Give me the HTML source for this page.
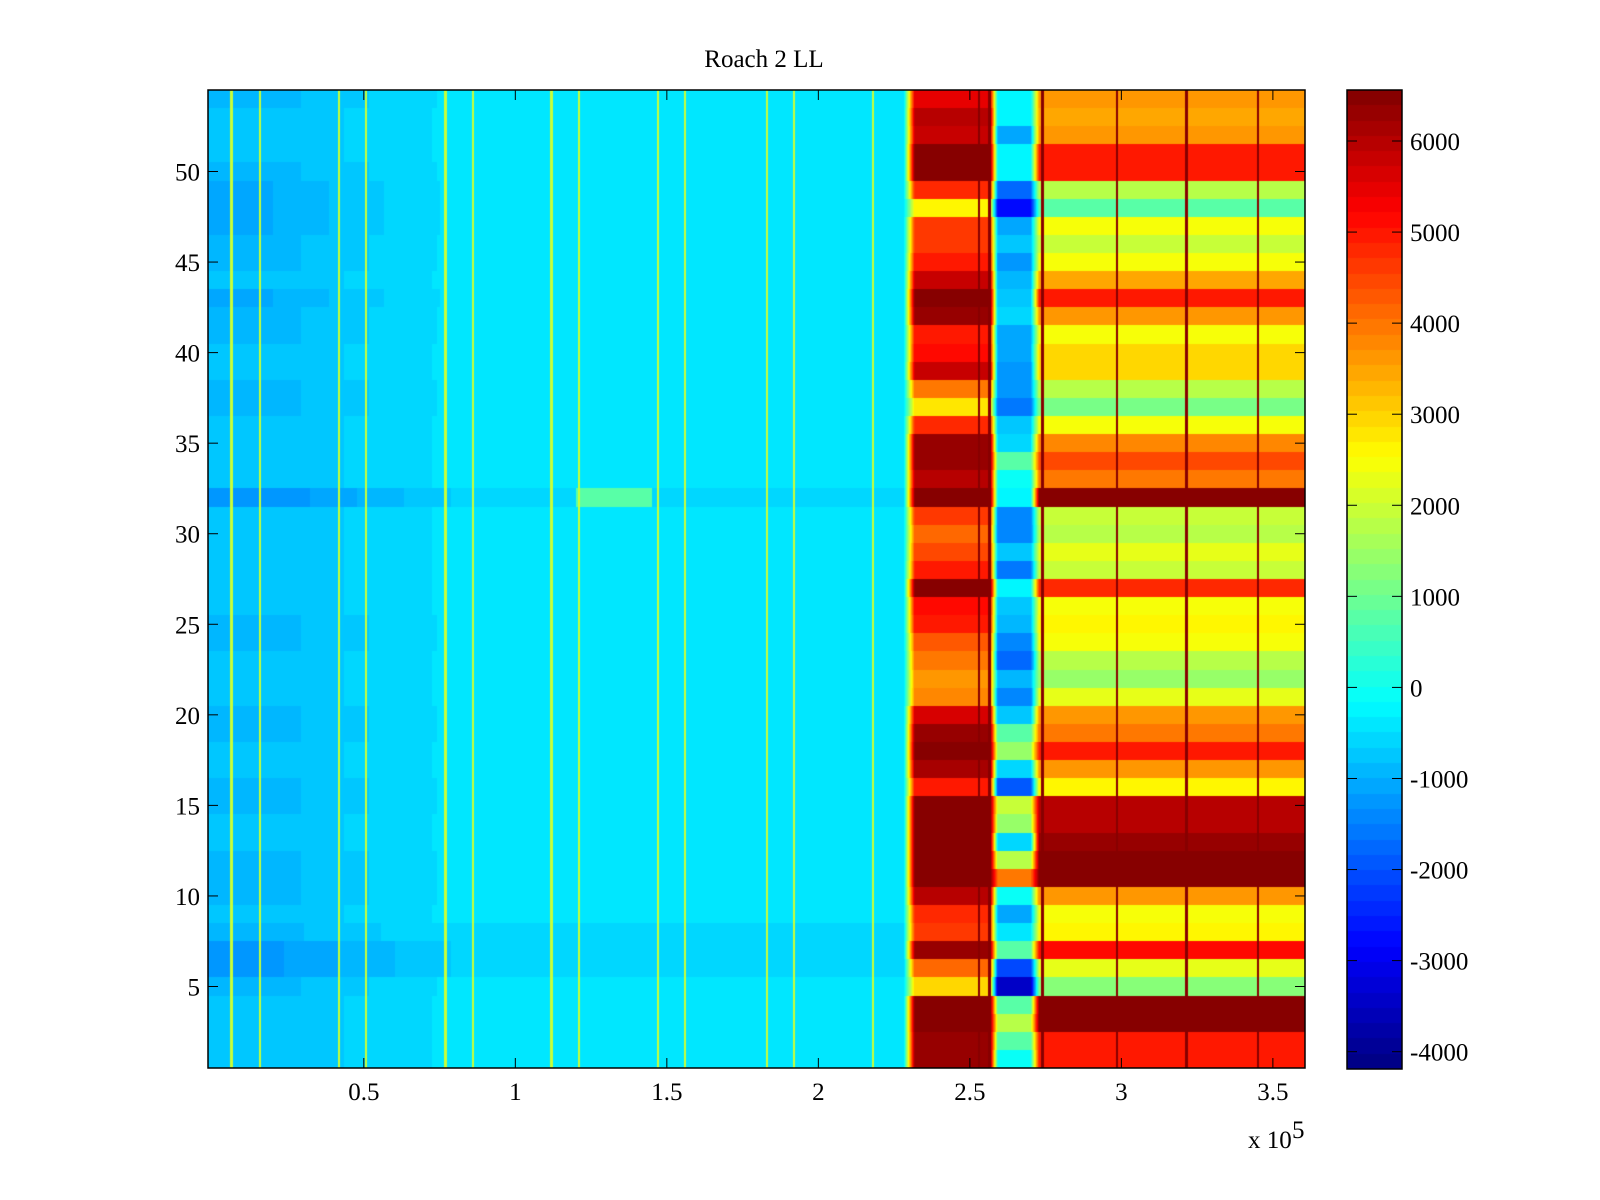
<!DOCTYPE html>
<html><head><meta charset="utf-8"><title>Roach 2 LL</title>
<style>
html,body{margin:0;padding:0;background:#fff;width:1600px;height:1200px;overflow:hidden;}
#wrap{position:relative;width:1600px;height:1200px;}
canvas{position:absolute;}
svg{position:absolute;left:0;top:0;}
text{font-family:"Liberation Serif",serif;font-size:25px;fill:#000;}
</style></head>
<body>
<div id="wrap">
<canvas id="heat" width="1097" height="978" style="left:208px;top:90px;"></canvas>
<canvas id="cbar" width="55" height="979" style="left:1347px;top:90px;"></canvas>
<svg id="ov" width="1600" height="1200"></svg>
</div>
<script>
// ---- data (rows 1..54) ----
const rowsA1 = [-800,-800,-800,-800,-900,-1200,-1200,-900,-800,-900,-900,-900,-800,-800,-900,-900,-800,-800,-900,-900,-800,-800,-800,-900,-900,-800,-800,-800,-800,-800,-800,-1300,-800,-800,-800,-800,-900,-900,-800,-800,-900,-900,-1000,-800,-900,-900,-1000,-1000,-1000,-900,-800,-800,-800,-900];
const rowsA2 = [-450,-450,-450,-450,-450,-650,-650,-500,-450,-450,-450,-450,-450,-450,-450,-450,-450,-450,-450,-450,-450,-450,-450,-450,-450,-450,-450,-450,-450,-450,-450,-650,-450,-450,-450,-450,-450,-450,-450,-450,-450,-450,-450,-450,-450,-450,-450,-450,-450,-450,-450,-450,-450,-450];
const rowsB = [6300,6300,6500,6500,3000,4200,6300,4600,4800,6000,6500,6500,6500,6500,6500,5000,6200,6500,6300,5700,3800,3700,4000,4300,5000,5200,6500,4900,4500,4200,4600,6500,6000,6300,6300,4800,2800,4000,5800,5200,5000,6300,6500,5800,5000,4600,4600,2600,4800,6500,6500,5800,6000,5500];
const rowsC = [0,800,1800,800,-3500,-2100,800,-400,-1000,0,4000,1700,-500,1500,2000,-2000,-600,1500,700,-800,-1500,-900,-1800,-1400,-900,-800,-200,-1600,-800,-1500,-1500,-200,0,700,-500,-700,-1600,-1200,-1300,-1000,-1100,-600,-800,-900,-1200,-800,-1000,-2800,-1700,-200,-200,-1000,-300,-300];
const rowsD = [5000,5000,6500,6500,1200,2200,5200,2600,2400,3700,6500,6500,6300,6000,6000,2600,3600,5000,4000,3700,2300,1500,1700,2400,2600,2500,4800,2000,2200,1700,1900,6500,3900,4400,3800,2500,1100,1800,3000,2900,2500,3700,5000,3500,2400,2000,2400,700,1800,5000,5000,3600,3500,3600];
const regionEdges = [0.5, 2.30, 2.58, 2.715]; // x (1e5) where A1|A2|B|C|D change
const stripesA = [0.064,0.157,0.418,0.508,0.77,0.86,1.12,1.21,1.47,1.56,1.83,1.92,2.18];
const stripeAValue = 1900;
const stripesD = [2.74,2.985,3.215,3.45];
const stripesB = [2.53,2.565];
const stripeDarkValue = 6500;
const patchRow = 32, patchX = [1.2,1.45], patchValue = 700;
const xTicks = [0.5,1,1.5,2,2.5,3,3.5];
const yTicks = [5,10,15,20,25,30,35,40,45,50];
const cTicks = [-4000,-3000,-2000,-1000,0,1000,2000,3000,4000,5000,6000];

// ---- scales ----
const PL=208, PT=90, PW=1097, PH=978;
const XMIN=-0.0142, XMAX=3.606, YMIN=0.5, YMAX=54.5;
const CMIN=-4190, CMAX=6560;
const sx = v => PL + (v-XMIN)/(XMAX-XMIN)*PW;
const sy = v => PT + (YMAX-v)/(YMAX-YMIN)*PH;
const CBT=90, CBH=979;
const sc = v => CBT + (CMAX-v)/(CMAX-CMIN)*CBH;

function jet(v){
  let i=Math.floor((v-CMIN)/(CMAX-CMIN)*64); i=Math.max(0,Math.min(63,i));
  const t=(i+0.5)/64;
  const c=x=>Math.round(255*Math.max(0,Math.min(1,x)));
  return [c(1.5-Math.abs(4*t-3)),c(1.5-Math.abs(4*t-2)),c(1.5-Math.abs(4*t-1))];
}
function blend(a,b,x,e,w){ if(x<e-w) return a; if(x>e+w) return b; return a+(b-a)*(x-e+w)/(2*w); }
function value(r,x){
  const i=r-1;
  const segs=[rowsA1[i],rowsA2[i],rowsB[i],rowsC[i],rowsD[i]];
  let v;
  if(x<(regionEdges[0]+regionEdges[1])/2) v=blend(segs[0],segs[1],x,regionEdges[0],0.3);
  else if(x<(regionEdges[1]+regionEdges[2])/2) v=blend(segs[1],segs[2],x,regionEdges[1],0.018);
  else if(x<(regionEdges[2]+regionEdges[3])/2) v=blend(segs[2],segs[3],x,regionEdges[2],0.012);
  else v=blend(segs[3],segs[4],x,regionEdges[3],0.014);
  if(r===patchRow && x>patchX[0] && x<patchX[1]) v=patchValue;
  for(const s of stripesA) if(Math.abs(x-s)<0.004) v=stripeAValue;
  for(const s of stripesD) if(Math.abs(x-s)<0.004) v=stripeDarkValue;
  for(const s of stripesB) if(Math.abs(x-s)<0.004) v=Math.max(v,stripeDarkValue);
  return v;
}
// heatmap
const hc=document.getElementById('heat').getContext('2d');
const img=hc.createImageData(PW,PH);
for(let py=0;py<PH;py++){
  const yv=YMAX-(py+0.5)/PH*(YMAX-YMIN);
  const r=Math.max(1,Math.min(54,Math.round(yv)));
  for(let px=0;px<PW;px++){
    const xv=XMIN+(px+0.5)/PW*(XMAX-XMIN);
    const c=jet(value(r,xv)); const k=(py*PW+px)*4;
    img.data[k]=c[0];img.data[k+1]=c[1];img.data[k+2]=c[2];img.data[k+3]=255;
  }
}
hc.putImageData(img,0,0);
// colorbar
const cc=document.getElementById('cbar').getContext('2d');
for(let py=0;py<CBH;py++){
  const v=CMAX-(py+0.5)/CBH*(CMAX-CMIN); const c=jet(v);
  cc.fillStyle=`rgb(${c[0]},${c[1]},${c[2]})`; cc.fillRect(0,py,55,1);
}
// overlay
const NS='http://www.w3.org/2000/svg', ov=document.getElementById('ov');
function mk(tag,attrs,txt){const e=document.createElementNS(NS,tag);for(const k in attrs)e.setAttribute(k,attrs[k]);if(txt!==undefined)e.textContent=txt;ov.appendChild(e);return e;}
let e;
e=mk('rect',{x:PL,y:PT,width:PW,height:PH,fill:'none',stroke:'#000','stroke-width':1.5});


e=mk('rect',{x:1347,y:CBT,width:55,height:CBH,fill:'none',stroke:'#000','stroke-width':1.5});


e=mk('text',{x:764,y:67,'text-anchor':'middle','font-size':'26'},'Roach 2 LL');


for(const t of xTicks){
  const x=sx(t);
  e=mk('line',{x1:x,y1:PT+PH,x2:x,y2:PT+PH-10,stroke:'#000','stroke-width':1});
  
  
  e=mk('line',{x1:x,y1:PT,x2:x,y2:PT+10,stroke:'#000','stroke-width':1});
  
  
  e=mk('text',{x:x,y:1100,'text-anchor':'middle'},String(t));
  
  
}
for(const t of yTicks){
  const y=sy(t);
  e=mk('line',{x1:PL,y1:y,x2:PL+10,y2:y,stroke:'#000','stroke-width':1});
  
  
  e=mk('line',{x1:PL+PW,y1:y,x2:PL+PW-10,y2:y,stroke:'#000','stroke-width':1});
  
  
  e=mk('text',{x:200,y:y+9,'text-anchor':'end'},String(t));
  
  
}
for(const t of cTicks){
  const y=sc(t);
  e=mk('line',{x1:1347,y1:y,x2:1357,y2:y,stroke:'#000','stroke-width':1});
  
  
  e=mk('line',{x1:1402,y1:y,x2:1392,y2:y,stroke:'#000','stroke-width':1});
  
  
  e=mk('text',{x:1410,y:y+9,'text-anchor':'start'},String(t));
  
  
}
e=mk('text',{x:1248,y:1148},'x 10');


e=mk('text',{x:1292,y:1138,'font-size':'17'},'5');


</script>
</body></html>
